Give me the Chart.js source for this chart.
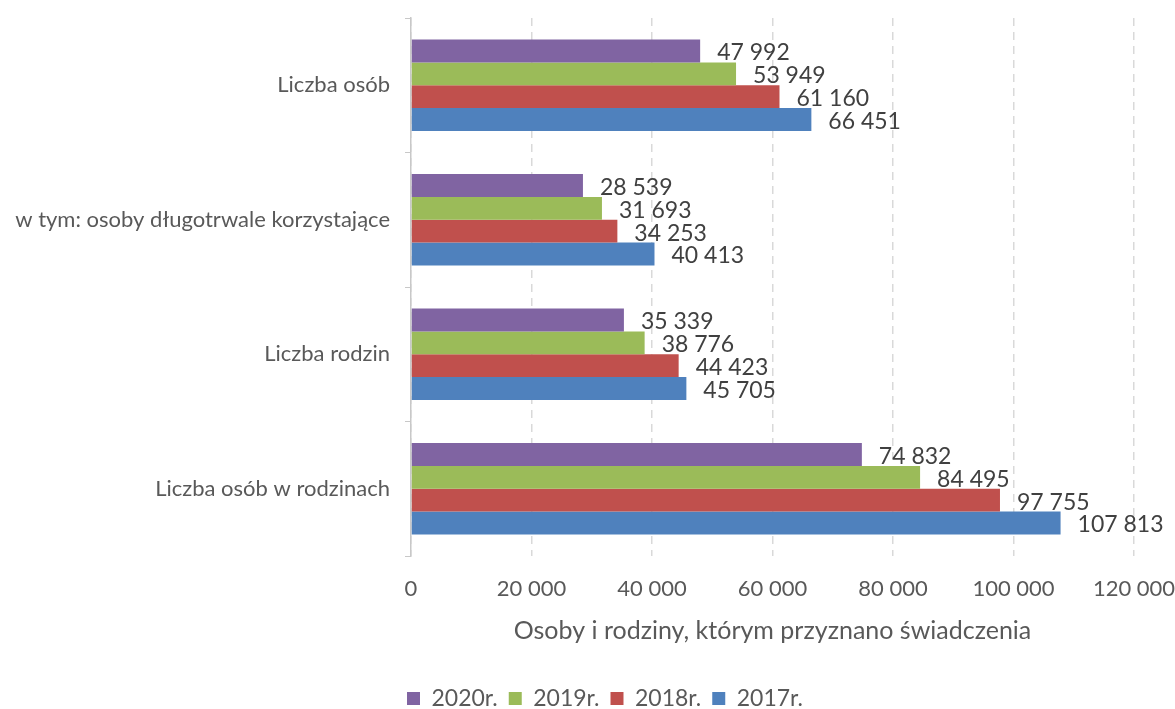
<!DOCTYPE html>
<html>
<head>
<meta charset="utf-8">
<script src="https://cdn.jsdelivr.net/npm/chart.js@4/dist/chart.umd.min.js"></script>
<style>
  html, body { margin: 0; padding: 0; background: #fff; }
  #wrap { width: 1175px; height: 709px; position: relative; }
</style>
</head>
<body>
<div id="wrap"><canvas id="c"></canvas></div>
<script>
const categories = ['Liczba osób', 'w tym: osoby długotrwale korzystające', 'Liczba rodzin', 'Liczba osób w rodzinach'];
const seriesNames = ['2020r.', '2019r.', '2018r.', '2017r.'];
const values2020 = [47992, 28539, 35339, 74832];
const values2019 = [53949, 31693, 38776, 84495];
const values2018 = [61160, 34253, 44423, 97755];
const values2017 = [66451, 40413, 45705, 107813];
const seriesColors = ['#8064A2', '#9BBB59', '#C0504D', '#4F81BD'];
const axisTitle = 'Osoby i rodziny, którym przyznano świadczenia';

const FONT = 'Lato, "Open Sans", sans-serif';
const fmt = v => String(Math.round(v)).replace(/\B(?=(\d{3})+(?!\d))/g, ' ');

const allValues = [values2020, values2019, values2018, values2017];
const LEGEND_SHIFT = 38;

const labelPlugin = {
  id: 'barLabels',
  afterLayout(chart) {
    if (chart.legend) {
      chart.legend.left += LEGEND_SHIFT;
      chart.legend.right += LEGEND_SHIFT;
    }
  },
  afterDatasetsDraw(chart) {
    const ctx = chart.ctx;
    ctx.save();
    ctx.font = '23px ' + FONT;
    ctx.fillStyle = '#404040';
    ctx.textAlign = 'left';
    ctx.textBaseline = 'middle';
    chart.data.datasets.forEach((ds, di) => {
      const meta = chart.getDatasetMeta(di);
      meta.data.forEach((el, i) => {
        ctx.fillText(fmt(ds.data[i]), el.x + 17, el.y + 2);
      });
    });
    ctx.restore();
  }
};

new Chart(document.getElementById('c'), {
  type: 'bar',
  data: {
    labels: categories,
    datasets: allValues.map((vals, i) => ({
      label: seriesNames[i],
      data: vals,
      backgroundColor: seriesColors[i],
      borderWidth: 0,
      categoryPercentage: 0.68,
      barPercentage: 1.0
    }))
  },
  options: {
    indexAxis: 'y',
    responsive: true,
    maintainAspectRatio: false,
    animation: false,
    layout: { padding: { top: 18, right: 41, bottom: -11, left: 0 } },
    plugins: {
      legend: {
        position: 'bottom',
        labels: {
          font: { family: FONT, size: 23 },
          color: '#595959',
          boxWidth: 13,
          boxHeight: 13,
          padding: 11
        }
      },
      tooltip: { enabled: false }
    },
    scales: {
      x: {
        min: 0,
        max: 120000,
        ticks: {
          stepSize: 20000,
          callback: v => fmt(v),
          font: { family: FONT, size: 22 },
          color: '#595959',
          padding: 20,
          maxRotation: 0
        },
        grid: {
          color: '#d9d9d9',
          lineWidth: 1.5,
          drawTicks: false
        },
        border: { display: false, dash: [8, 6] },
        title: {
          display: true,
          text: axisTitle,
          font: { family: FONT, size: 25 },
          color: '#595959',
          padding: { top: 10, bottom: 30 }
        },
        afterFit(scale) {
          scale.height = 120;
          scale.paddingLeft = 0;
          scale.paddingRight = 0;
        }
      },
      y: {
        ticks: {
          font: { family: FONT, size: 22 },
          color: '#595959',
          padding: 15
        },
        grid: {
          offset: true,
          drawOnChartArea: false,
          drawTicks: true,
          tickLength: 6,
          color: '#c8c8c8'
        },
        border: { display: true, color: '#c8c8c8', width: 1.5 },
        afterFit(scale) {
          scale.width = 411;
          scale.paddingTop = 0;
          scale.paddingBottom = 0;
        }
      }
    }
  },
  plugins: [labelPlugin]
});
</script>
</body>
</html>
